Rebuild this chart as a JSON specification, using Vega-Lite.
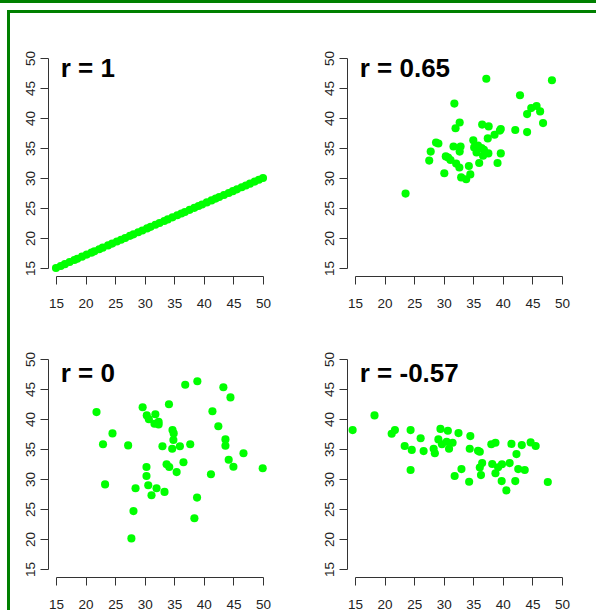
{
  "$schema": "https://vega.github.io/schema/vega-lite/v6.json",
  "padding": 0,
  "background": "white",
  "config": {
    "view": {"stroke": null},
    "font": "Liberation Sans",
    "axis": {
      "grid": false,
      "title": null,
      "offset": 8,
      "values": [15, 20, 25, 30, 35, 40, 45, 50],
      "domainColor": "#333333",
      "domainWidth": 1,
      "tickColor": "#333333",
      "tickWidth": 1,
      "tickSize": 8,
      "labelFont": "Liberation Sans",
      "labelFontSize": 13.5,
      "labelColor": "#222222",
      "labelFlush": false,
      "labelOverlap": false
    },
    "axisX": {"labelPadding": 12, "labelAngle": 0},
    "axisY": {"labelPadding": 5.5, "labelAngle": -90, "labelAlign": "center", "labelBaseline": "alphabetic"}
  },
  "datasets": {
    "r_1": [
      {"x": 15, "y": 15}, {"x": 15.8, "y": 15.34}, {"x": 16.5, "y": 15.64}, {"x": 17.3, "y": 15.99},
      {"x": 18.1, "y": 16.33}, {"x": 18.6, "y": 16.54}, {"x": 19.4, "y": 16.89}, {"x": 20.2, "y": 17.23},
      {"x": 21.0, "y": 17.57}, {"x": 21.5, "y": 17.79}, {"x": 22.3, "y": 18.13}, {"x": 22.9, "y": 18.39},
      {"x": 23.8, "y": 18.77}, {"x": 24.5, "y": 19.07}, {"x": 25.3, "y": 19.41}, {"x": 26.0, "y": 19.71},
      {"x": 26.7, "y": 20.01}, {"x": 27.5, "y": 20.36}, {"x": 28.1, "y": 20.61}, {"x": 28.9, "y": 20.96},
      {"x": 29.6, "y": 21.26}, {"x": 30.4, "y": 21.6}, {"x": 31.0, "y": 21.86}, {"x": 31.8, "y": 22.2},
      {"x": 32.5, "y": 22.5}, {"x": 33.3, "y": 22.84}, {"x": 33.9, "y": 23.1}, {"x": 34.7, "y": 23.44},
      {"x": 35.5, "y": 23.79}, {"x": 36.2, "y": 24.09}, {"x": 36.8, "y": 24.34}, {"x": 37.6, "y": 24.69},
      {"x": 38.4, "y": 25.03}, {"x": 39.1, "y": 25.33}, {"x": 39.7, "y": 25.59}, {"x": 40.5, "y": 25.93},
      {"x": 41.3, "y": 26.27}, {"x": 42.0, "y": 26.57}, {"x": 42.6, "y": 26.83}, {"x": 43.4, "y": 27.17},
      {"x": 44.2, "y": 27.51}, {"x": 44.9, "y": 27.81}, {"x": 45.6, "y": 28.11}, {"x": 46.4, "y": 28.46},
      {"x": 47.1, "y": 28.76}, {"x": 47.8, "y": 29.06}, {"x": 48.6, "y": 29.4}, {"x": 49.3, "y": 29.7},
      {"x": 50, "y": 30}
    ],
    "r_065": [
      {"x": 23.55, "y": 27.4}, {"x": 37.2, "y": 46.55}, {"x": 48.3, "y": 46.3}, {"x": 42.9, "y": 43.8},
      {"x": 31.8, "y": 42.4}, {"x": 45.7, "y": 42.0}, {"x": 44.8, "y": 41.65}, {"x": 46.3, "y": 41.1},
      {"x": 44.1, "y": 40.65}, {"x": 46.8, "y": 39.15}, {"x": 32.7, "y": 39.25}, {"x": 32.0, "y": 38.3},
      {"x": 36.5, "y": 38.9}, {"x": 37.6, "y": 38.6}, {"x": 39.65, "y": 38.15}, {"x": 39.5, "y": 37.9},
      {"x": 42.1, "y": 38.0}, {"x": 44.1, "y": 37.65}, {"x": 38.6, "y": 37.2}, {"x": 37.45, "y": 36.6},
      {"x": 35.0, "y": 36.3}, {"x": 28.7, "y": 35.9}, {"x": 29.1, "y": 35.75}, {"x": 27.8, "y": 34.4},
      {"x": 31.65, "y": 35.25}, {"x": 32.85, "y": 35.25}, {"x": 32.7, "y": 34.4}, {"x": 35.15, "y": 35.1},
      {"x": 35.8, "y": 35.4}, {"x": 36.4, "y": 35.0}, {"x": 35.55, "y": 34.25}, {"x": 36.8, "y": 34.7},
      {"x": 37.55, "y": 34.1}, {"x": 36.65, "y": 33.7}, {"x": 39.65, "y": 34.1}, {"x": 30.35, "y": 33.6},
      {"x": 30.75, "y": 33.4}, {"x": 27.55, "y": 32.9}, {"x": 31.15, "y": 33.0}, {"x": 32.1, "y": 32.4},
      {"x": 36.0, "y": 32.5}, {"x": 39.1, "y": 32.5}, {"x": 34.25, "y": 32.0}, {"x": 32.65, "y": 31.75},
      {"x": 30.1, "y": 30.8}, {"x": 34.5, "y": 30.6}, {"x": 32.95, "y": 30.1}, {"x": 33.8, "y": 29.8}
    ],
    "r_0": [
      {"x": 21.85, "y": 41.15}, {"x": 22.95, "y": 35.8}, {"x": 24.55, "y": 37.6}, {"x": 23.3, "y": 29.1},
      {"x": 27.2, "y": 35.6}, {"x": 28.45, "y": 28.45}, {"x": 28.1, "y": 24.65}, {"x": 27.75, "y": 20.1},
      {"x": 29.65, "y": 41.95}, {"x": 30.35, "y": 40.6}, {"x": 30.7, "y": 39.95}, {"x": 31.8, "y": 40.8},
      {"x": 31.65, "y": 39.2}, {"x": 32.35, "y": 39.1}, {"x": 32.35, "y": 39.55}, {"x": 34.1, "y": 42.45},
      {"x": 36.85, "y": 45.7}, {"x": 38.9, "y": 46.3}, {"x": 43.3, "y": 45.3}, {"x": 44.5, "y": 43.6},
      {"x": 41.45, "y": 41.3}, {"x": 42.45, "y": 38.8}, {"x": 43.65, "y": 36.6}, {"x": 43.65, "y": 35.55},
      {"x": 34.7, "y": 38.15}, {"x": 34.9, "y": 37.6}, {"x": 34.85, "y": 36.5}, {"x": 34.65, "y": 35.05},
      {"x": 33.0, "y": 35.45}, {"x": 35.95, "y": 35.45}, {"x": 37.7, "y": 35.8}, {"x": 36.55, "y": 32.8},
      {"x": 33.7, "y": 32.45}, {"x": 34.15, "y": 32.0}, {"x": 35.4, "y": 31.15}, {"x": 30.3, "y": 32.0},
      {"x": 30.3, "y": 30.5}, {"x": 30.6, "y": 28.95}, {"x": 31.15, "y": 27.3}, {"x": 32.0, "y": 28.45},
      {"x": 33.35, "y": 27.85}, {"x": 38.85, "y": 26.9}, {"x": 38.4, "y": 23.45}, {"x": 41.2, "y": 30.8},
      {"x": 44.2, "y": 33.2}, {"x": 45.0, "y": 32.05}, {"x": 46.7, "y": 34.3}, {"x": 49.95, "y": 31.8}
    ],
    "r_m057": [
      {"x": 14.6, "y": 38.15}, {"x": 18.3, "y": 40.6}, {"x": 21.2, "y": 37.55}, {"x": 21.75, "y": 38.15},
      {"x": 24.4, "y": 38.15}, {"x": 23.4, "y": 35.5}, {"x": 24.6, "y": 34.85}, {"x": 24.4, "y": 31.5},
      {"x": 26.1, "y": 36.8}, {"x": 26.6, "y": 34.65}, {"x": 28.3, "y": 35.05}, {"x": 28.5, "y": 34.3},
      {"x": 29.45, "y": 38.35}, {"x": 30.7, "y": 38.05}, {"x": 29.1, "y": 36.6}, {"x": 29.7, "y": 35.8},
      {"x": 30.5, "y": 36.2}, {"x": 31.5, "y": 36.05}, {"x": 30.9, "y": 35.05}, {"x": 32.5, "y": 37.65},
      {"x": 31.85, "y": 30.5}, {"x": 33.0, "y": 31.65}, {"x": 34.5, "y": 37.15}, {"x": 34.4, "y": 35.05},
      {"x": 34.3, "y": 29.55}, {"x": 35.8, "y": 34.7}, {"x": 36.1, "y": 34.55}, {"x": 36.5, "y": 32.65},
      {"x": 36.1, "y": 31.9}, {"x": 36.3, "y": 30.65}, {"x": 38.05, "y": 35.8}, {"x": 38.75, "y": 36.05},
      {"x": 38.2, "y": 32.5}, {"x": 38.75, "y": 30.95}, {"x": 39.2, "y": 31.95}, {"x": 39.85, "y": 32.45},
      {"x": 39.8, "y": 29.65}, {"x": 40.6, "y": 28.1}, {"x": 41.15, "y": 32.65}, {"x": 41.45, "y": 35.85},
      {"x": 42.3, "y": 34.15}, {"x": 42.6, "y": 31.65}, {"x": 42.1, "y": 29.65}, {"x": 43.2, "y": 35.65},
      {"x": 43.7, "y": 31.5}, {"x": 44.7, "y": 36.1}, {"x": 45.55, "y": 35.5}, {"x": 47.6, "y": 29.5}
    ]
  },
  "spacing": 7,
  "vconcat": [
    {
      "width": 596, "height": 3,
      "view": {"fill": "#008000", "stroke": null},
      "data": {"values": []},
      "mark": {"type": "point", "opacity": 0}
    },
    {
      "spacing": 0,
      "hconcat": [
        {"width": 7, "height": 1, "data": {"values": []}, "mark": {"type": "point", "opacity": 0}},
        {
          "width": 3, "height": 600,
          "view": {"fill": "#008000", "stroke": null},
          "data": {"values": []},
          "mark": {"type": "point", "opacity": 0}
        },
        {
          "spacing": 37,
          "vconcat": [
            {
              "width": 586, "height": 3,
              "view": {"fill": "#008000", "stroke": null},
              "data": {"values": []},
              "mark": {"type": "point", "opacity": 0}
            },
            {
              "spacing": 0,
              "hconcat": [
                {"width": 13, "height": 1, "data": {"values": []}, "mark": {"type": "point", "opacity": 0}},
                {
                  "columns": 2,
                  "bounds": "flush",
                  "spacing": {"row": 91, "column": 92},
                  "concat": [
                    {
                      "width": 207, "height": 210,
                      "layer": [
                        {
                          "data": {"name": "r_1"},
                          "mark": {"type": "circle", "size": 66, "color": "#00ff00", "opacity": 1},
                          "encoding": {
                            "x": {"field": "x", "type": "quantitative", "scale": {"domain": [15, 50], "nice": false, "zero": false}},
                            "y": {"field": "y", "type": "quantitative", "scale": {"domain": [15, 50], "nice": false, "zero": false}}
                          }
                        },
                        {
                          "data": {"values": [{"label": "r = 1"}]},
                          "mark": {"type": "text", "font": "Liberation Sans", "fontSize": 26, "fontWeight": "bold", "color": "black", "align": "left", "baseline": "alphabetic"},
                          "encoding": {"x": {"datum": 15.8}, "y": {"datum": 46.85}, "text": {"field": "label"}}
                        }
                      ]
                    },
                    {
                      "width": 207, "height": 210,
                      "layer": [
                        {
                          "data": {"name": "r_065"},
                          "mark": {"type": "circle", "size": 66, "color": "#00ff00", "opacity": 1},
                          "encoding": {
                            "x": {"field": "x", "type": "quantitative", "scale": {"domain": [15, 50], "nice": false, "zero": false}},
                            "y": {"field": "y", "type": "quantitative", "scale": {"domain": [15, 50], "nice": false, "zero": false}}
                          }
                        },
                        {
                          "data": {"values": [{"label": "r = 0.65"}]},
                          "mark": {"type": "text", "font": "Liberation Sans", "fontSize": 26, "fontWeight": "bold", "color": "black", "align": "left", "baseline": "alphabetic"},
                          "encoding": {"x": {"datum": 15.8}, "y": {"datum": 46.85}, "text": {"field": "label"}}
                        }
                      ]
                    },
                    {
                      "width": 207, "height": 210,
                      "layer": [
                        {
                          "data": {"name": "r_0"},
                          "mark": {"type": "circle", "size": 66, "color": "#00ff00", "opacity": 1},
                          "encoding": {
                            "x": {"field": "x", "type": "quantitative", "scale": {"domain": [15, 50], "nice": false, "zero": false}},
                            "y": {"field": "y", "type": "quantitative", "scale": {"domain": [15, 50], "nice": false, "zero": false}}
                          }
                        },
                        {
                          "data": {"values": [{"label": "r = 0"}]},
                          "mark": {"type": "text", "font": "Liberation Sans", "fontSize": 26, "fontWeight": "bold", "color": "black", "align": "left", "baseline": "alphabetic"},
                          "encoding": {"x": {"datum": 15.8}, "y": {"datum": 46.1}, "text": {"field": "label"}}
                        }
                      ]
                    },
                    {
                      "width": 207, "height": 210,
                      "layer": [
                        {
                          "data": {"name": "r_m057"},
                          "mark": {"type": "circle", "size": 66, "color": "#00ff00", "opacity": 1},
                          "encoding": {
                            "x": {"field": "x", "type": "quantitative", "scale": {"domain": [15, 50], "nice": false, "zero": false}},
                            "y": {"field": "y", "type": "quantitative", "scale": {"domain": [15, 50], "nice": false, "zero": false}}
                          }
                        },
                        {
                          "data": {"values": [{"label": "r = -0.57"}]},
                          "mark": {"type": "text", "font": "Liberation Sans", "fontSize": 26, "fontWeight": "bold", "color": "black", "align": "left", "baseline": "alphabetic"},
                          "encoding": {"x": {"datum": 15.8}, "y": {"datum": 46.1}, "text": {"field": "label"}}
                        }
                      ]
                    }
                  ]
                }
              ]
            }
          ]
        }
      ]
    }
  ]
}
